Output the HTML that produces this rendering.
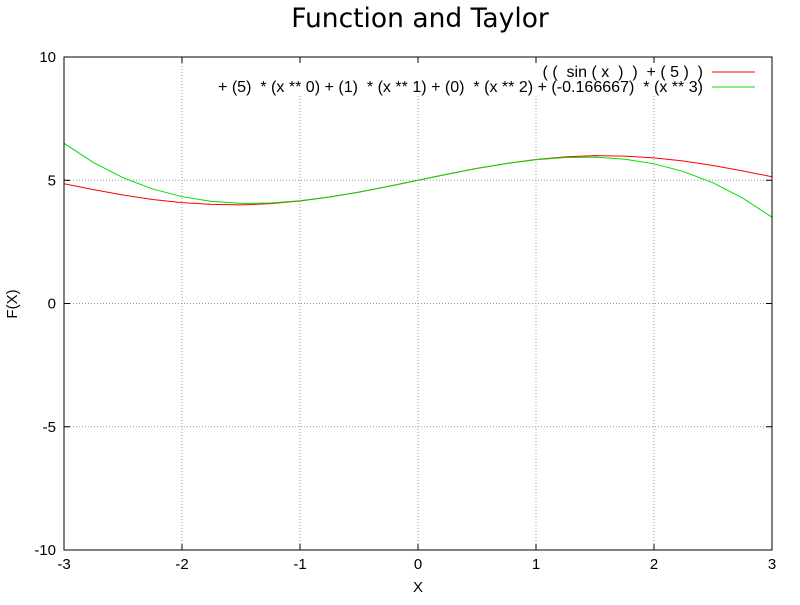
<!DOCTYPE html>
<html><head><meta charset="utf-8"><style>
body{margin:0;background:#fff;}
svg text{font-family:"Liberation Sans",sans-serif;white-space:pre;}
</style></head><body>
<svg id="chart" width="800" height="600" xmlns="http://www.w3.org/2000/svg">
<text x="420" y="27" font-size="26.5" text-anchor="middle" style="font-family:'DejaVu Sans',sans-serif">Function and Taylor</text>
<g id="grid"></g>
<rect x="212" y="58" width="558" height="36" fill="#fff"/>
<g id="series"></g>
<rect x="64" y="57" width="708" height="493" fill="none" stroke="#000" stroke-width="1"/>
<g id="ticks"></g>
<text x="418" y="592" font-size="15" text-anchor="middle">X</text>
<text x="17" y="304" font-size="15" text-anchor="middle" transform="rotate(-90 17 304)">F(X)</text>
<g>
<text x="703" y="77" font-size="16" text-anchor="end">( (  sin ( x  )  )  + ( 5 )  )</text>
<line x1="712" y1="72" x2="755" y2="72" stroke="#ff0000"/>
<text x="703" y="92" font-size="16" text-anchor="end" textLength="485" lengthAdjust="spacingAndGlyphs">+ (5)  * (x ** 0) + (1)  * (x ** 1) + (0)  * (x ** 2) + (-0.166667)  * (x ** 3)</text>
<line x1="712" y1="87" x2="755" y2="87" stroke="#00dd00"/>
</g>
</svg>
<script>
const xValues=[-3,-2.75,-2.5,-2.25,-2,-1.75,-1.5,-1.25,-1,-0.75,-0.5,-0.25,0,0.25,0.5,0.75,1,1.25,1.5,1.75,2,2.25,2.5,2.75,3];
const sinSeries=[4.86,4.62,4.40,4.22,4.09,4.02,4.00,4.05,4.16,4.32,4.52,4.75,5,5.25,5.48,5.68,5.84,5.95,6.00,5.98,5.91,5.78,5.60,5.38,5.14];
const taylorSeries=[6.5,5.716,5.104,4.648,4.333,4.143,4.063,4.076,4.167,4.320,4.521,4.753,5,5.247,5.479,5.680,5.833,5.924,5.938,5.857,5.667,5.352,4.896,4.284,3.5];
const xTicks=[-3,-2,-1,0,1,2,3];
const yTicks=[-10,-5,0,5,10];
const NS="http://www.w3.org/2000/svg";
const sx=v=>64+(v+3)/6*708;
const sy=v=>550-(v+10)/20*493;
const grid=document.getElementById('grid'),ticks=document.getElementById('ticks'),series=document.getElementById('series');
function mk(t,a,p){const e=document.createElementNS(NS,t);for(const k in a)e.setAttribute(k,a[k]);p.appendChild(e);return e;}
xTicks.forEach(v=>{
  if(v>-3&&v<3){const g=mk('line',{x1:sx(v),y1:57,x2:sx(v),y2:550,stroke:'#999','stroke-dasharray':'1,2'},grid);
  
  }
  const t=mk('text',{x:sx(v),y:569,'font-size':15,'text-anchor':'middle'},ticks);t.textContent=v;
  
  
  mk('line',{x1:sx(v),y1:550,x2:sx(v),y2:544,stroke:'#000'},ticks);
  mk('line',{x1:sx(v),y1:57,x2:sx(v),y2:63,stroke:'#000'},ticks);
});
yTicks.forEach(v=>{
  if(v>-10&&v<10){const g=mk('line',{x1:64,y1:sy(v),x2:772,y2:sy(v),stroke:'#999','stroke-dasharray':'1,2'},grid);
  
  }
  const t=mk('text',{x:56,y:sy(v)+5,'font-size':15,'text-anchor':'end'},ticks);t.textContent=v;
  
  
  mk('line',{x1:64,y1:sy(v),x2:70,y2:sy(v),stroke:'#000'},ticks);
  mk('line',{x1:772,y1:sy(v),x2:766,y2:sy(v),stroke:'#000'},ticks);
});
function line(vals,color,name){
  const p=mk('polyline',{points:xValues.map((x,i)=>sx(x)+','+sy(vals[i])).join(' '),fill:'none',stroke:color,'stroke-width':1},series);
  
  
}
line(sinSeries,'#ff0000','sin-line');
line(taylorSeries,'#00dd00','taylor-line');
</script>
</body></html>
